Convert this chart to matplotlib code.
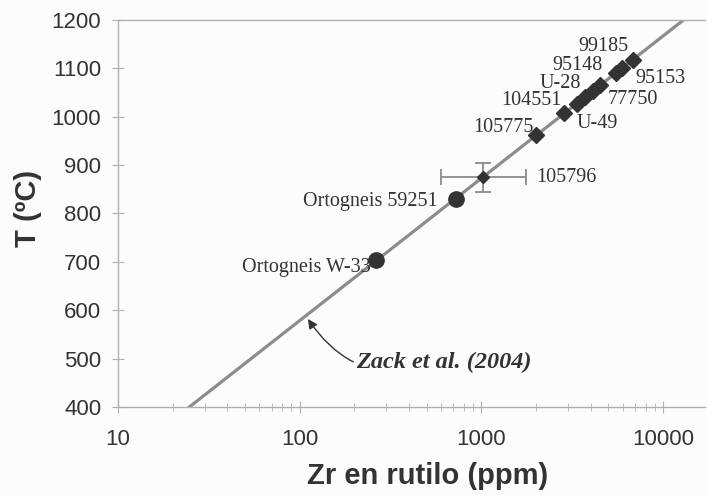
import numpy as np
import matplotlib.pyplot as plt

# Recta de calibración Zack et al. (2004), dos extremos
zack_zr = [24.7, 12940]
zack_t = [400, 1200]

# Muestras con rombos
diam_names = ["105775", "104551", "U-49", "77750", "U-28", "95148", "", "95153", "99185"]
diam_zr = [2000, 2850, 3350, 3700, 4100, 4500, 5500, 5950, 6800]
diam_t = [962, 1007, 1027, 1040, 1053, 1065, 1090, 1101, 1118]

# Muestra con barra de error
eb_zr = 1020
eb_t = 875
eb_xerr = [[420], [730]]
eb_yerr = 30

# Ortogneises (círculos)
circ_names = ["Ortogneis W-33", "Ortogneis 59251"]
circ_zr = [263, 728]
circ_t = [704, 830]

# Posición de las etiquetas (Zr, T, alineación)
etiquetas = {
    "99185": (4670, 1145, "center"),
    "95148": (3390, 1106, "center"),
    "U-28": (2730, 1068, "center"),
    "104551": (1890, 1034, "center"),
    "105775": (1325, 977, "center"),
    "77750": (6820, 1035, "center"),
    "95153": (9620, 1080, "center"),
    "U-49": (4320, 987, "center"),
    "105796": (1990, 875, "left"),
    "Ortogneis 59251": (571, 824, "right"),
    "Ortogneis W-33": (247, 689, "right"),
}

gris = "#8c8c8c"
oscuro = "#333333"

plt.rcParams["font.family"] = "Liberation Sans"

fig = plt.figure(figsize=(7.07, 4.95), dpi=100, facecolor="#fcfcfc")
ax = fig.add_axes([118 / 707, 1 - 407 / 495, 587 / 707, 387 / 495])
ax.set_facecolor("#fcfcfc")

ax.plot(zack_zr, zack_t, color=gris, lw=2.3, zorder=2)
ax.errorbar(eb_zr, eb_t, xerr=eb_xerr, yerr=eb_yerr, fmt="D", color=oscuro,
            ms=6.5, ecolor=gris, elinewidth=1.3, capsize=6, capthick=1.3, zorder=3)
ax.plot(diam_zr, diam_t, "D", color=oscuro, ms=8, ls="none", zorder=4)
ax.plot(circ_zr, circ_t, "o", color=oscuro, ms=11, ls="none", zorder=4)

for nombre, (x, y, ha) in etiquetas.items():
    ax.text(x, y, nombre, ha=ha, va="center", family="Liberation Serif",
            fontsize=14.5, color=oscuro)

ax.annotate("Zack et al. (2004)", xy=(111, 582), xytext=(204, 493),
            family="Liberation Serif", fontsize=17.5, fontweight="bold",
            fontstyle="italic", color=oscuro, va="center", ha="left",
            arrowprops=dict(arrowstyle="-|>", color=oscuro, lw=1.0,
                            connectionstyle="arc3,rad=-0.4",
                            shrinkA=0, shrinkB=0, mutation_scale=14))

ax.set_xscale("log")
ax.set_xlim(10, 17000)
ax.set_ylim(400, 1200)
ax.set_yticks(np.arange(400, 1201, 100))
ax.set_xticks([10, 100, 1000, 10000])
ax.set_xticklabels(["10", "100", "1000", "10000"])

for lado in ["left", "bottom", "top"]:
    ax.spines[lado].set_color("#b0b0b0")
    ax.spines[lado].set_linewidth(1.0)
ax.spines["right"].set_visible(False)

ax.tick_params(axis="both", which="major", direction="inout", length=8,
               color="#b0b0b0", labelsize=16, labelcolor=oscuro)
ax.tick_params(axis="x", which="minor", direction="inout", length=6,
               color="#b0b0b0")
ax.tick_params(axis="x", which="major", pad=12)
ax.tick_params(axis="y", which="major", pad=8)

fig.text(28 / 707, 1 - 208 / 495, "T (ºC)", rotation=90, ha="center",
         va="center", fontsize=21, fontweight="bold", color=oscuro)
fig.text(428 / 707, 1 - 476 / 495, "Zr en rutilo (ppm)", ha="center",
         va="center", fontsize=21, fontweight="bold", color=oscuro)

fig.savefig("out.png", dpi=100, facecolor=fig.get_facecolor())
